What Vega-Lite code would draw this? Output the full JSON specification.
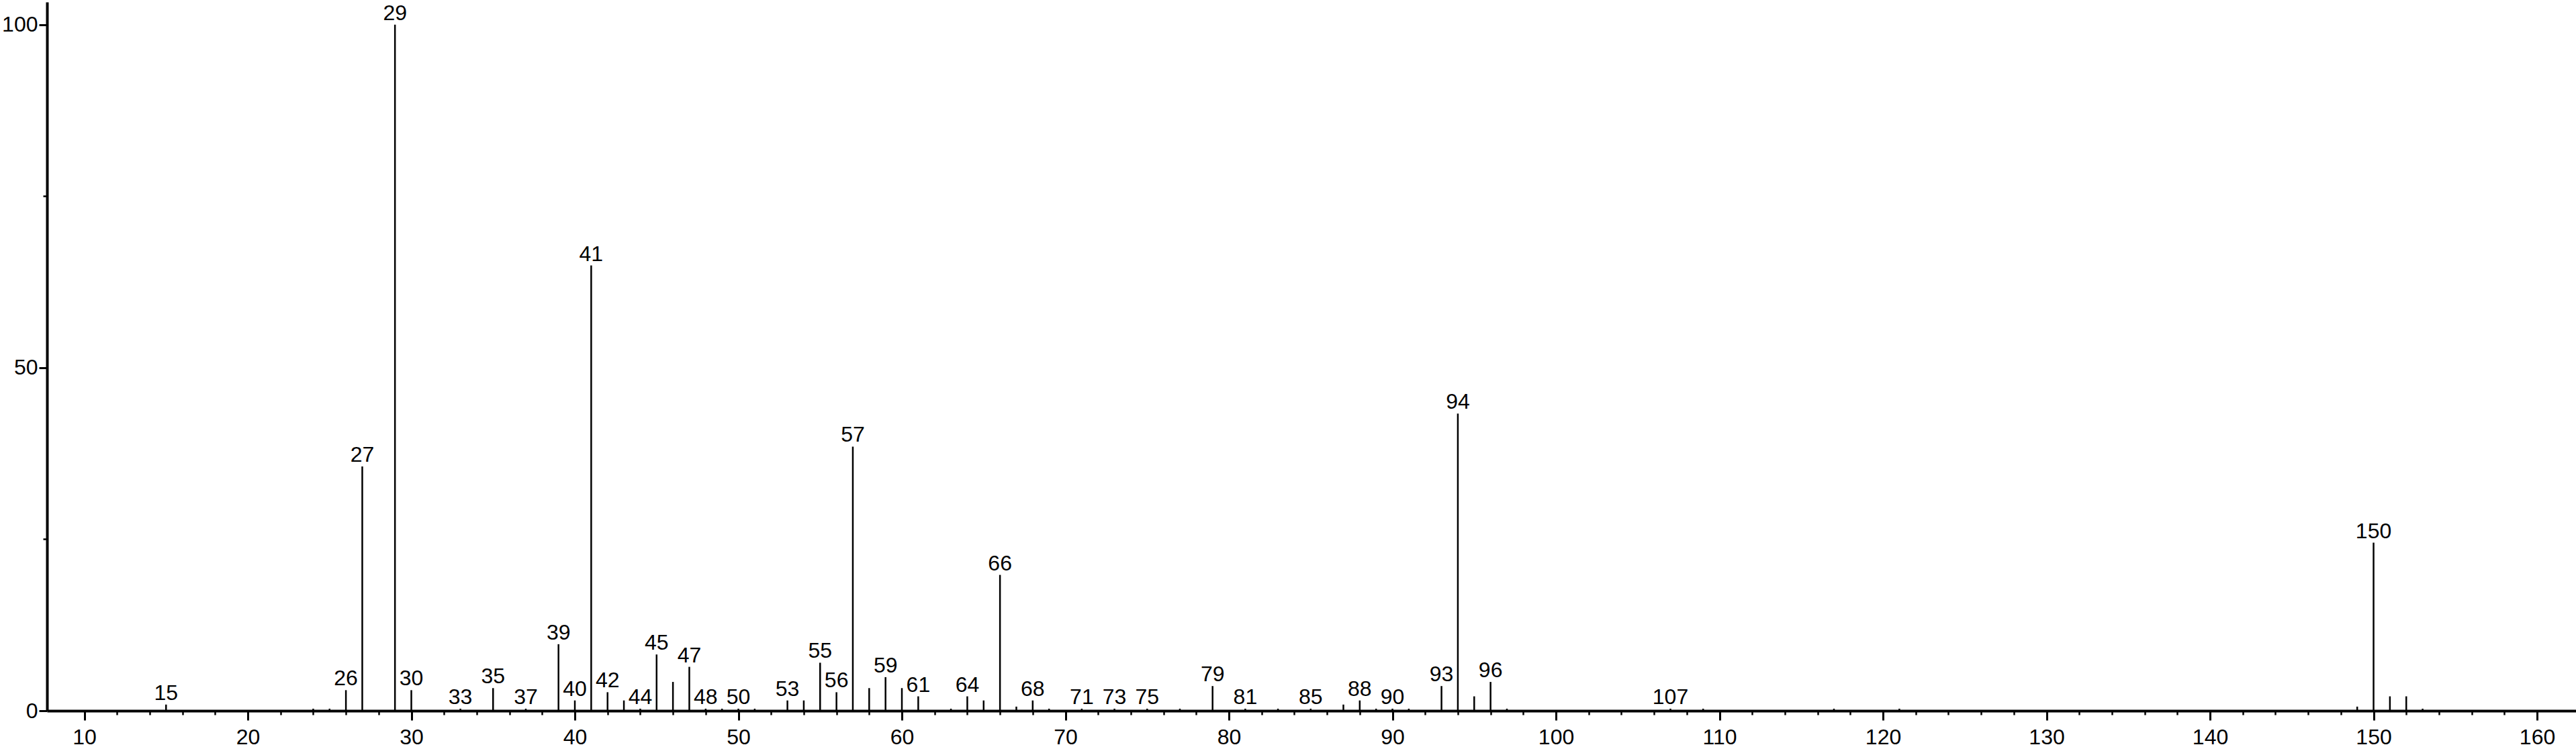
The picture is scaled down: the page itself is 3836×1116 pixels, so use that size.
{
  "$schema": "https://vega.github.io/schema/vega-lite/v6.json",
  "autosize": "none",
  "width": 3766,
  "height": 1056,
  "padding": {"left": 70, "top": 3, "right": 0, "bottom": 57},
  "background": "white",
  "config": {"view": {"stroke": null}, "font": "Liberation Sans"},
  "data": {"values": [
    {"mz": 15, "rel": 0.9, "lab": true},
    {"mz": 24, "rel": 0.3, "lab": false},
    {"mz": 25, "rel": 0.3, "lab": false},
    {"mz": 26, "rel": 3.0, "lab": true},
    {"mz": 27, "rel": 35.6, "lab": true},
    {"mz": 29, "rel": 100, "lab": true},
    {"mz": 30, "rel": 3.0, "lab": true},
    {"mz": 33, "rel": 0.3, "lab": true},
    {"mz": 35, "rel": 3.3, "lab": true},
    {"mz": 37, "rel": 0.3, "lab": true},
    {"mz": 39, "rel": 9.7, "lab": true},
    {"mz": 40, "rel": 1.5, "lab": true},
    {"mz": 41, "rel": 64.9, "lab": true},
    {"mz": 42, "rel": 2.7, "lab": true},
    {"mz": 43, "rel": 1.5, "lab": false},
    {"mz": 44, "rel": 0.3, "lab": true},
    {"mz": 45, "rel": 8.2, "lab": true},
    {"mz": 46, "rel": 4.2, "lab": false},
    {"mz": 47, "rel": 6.4, "lab": true},
    {"mz": 48, "rel": 0.3, "lab": true},
    {"mz": 49, "rel": 0.3, "lab": false},
    {"mz": 50, "rel": 0.3, "lab": true},
    {"mz": 51, "rel": 0.3, "lab": false},
    {"mz": 53, "rel": 1.5, "lab": true},
    {"mz": 54, "rel": 1.5, "lab": false},
    {"mz": 55, "rel": 7.0, "lab": true},
    {"mz": 56, "rel": 2.7, "lab": true},
    {"mz": 57, "rel": 38.5, "lab": true},
    {"mz": 58, "rel": 3.3, "lab": false},
    {"mz": 59, "rel": 4.9, "lab": true},
    {"mz": 60, "rel": 3.3, "lab": false},
    {"mz": 61, "rel": 2.1, "lab": true},
    {"mz": 63, "rel": 0.3, "lab": false},
    {"mz": 64, "rel": 2.1, "lab": true},
    {"mz": 65, "rel": 1.5, "lab": false},
    {"mz": 66, "rel": 19.8, "lab": true},
    {"mz": 67, "rel": 0.6, "lab": false},
    {"mz": 68, "rel": 1.5, "lab": true},
    {"mz": 69, "rel": 0.3, "lab": false},
    {"mz": 71, "rel": 0.3, "lab": true},
    {"mz": 73, "rel": 0.3, "lab": true},
    {"mz": 75, "rel": 0.3, "lab": true},
    {"mz": 77, "rel": 0.3, "lab": false},
    {"mz": 79, "rel": 3.6, "lab": true},
    {"mz": 81, "rel": 0.3, "lab": true},
    {"mz": 83, "rel": 0.3, "lab": false},
    {"mz": 85, "rel": 0.3, "lab": true},
    {"mz": 87, "rel": 0.9, "lab": false},
    {"mz": 88, "rel": 1.5, "lab": true},
    {"mz": 89, "rel": 0.3, "lab": false},
    {"mz": 90, "rel": 0.3, "lab": true},
    {"mz": 91, "rel": 0.3, "lab": false},
    {"mz": 93, "rel": 3.6, "lab": true},
    {"mz": 94, "rel": 43.3, "lab": true},
    {"mz": 95, "rel": 2.1, "lab": false},
    {"mz": 96, "rel": 4.2, "lab": true},
    {"mz": 97, "rel": 0.3, "lab": false},
    {"mz": 107, "rel": 0.3, "lab": true},
    {"mz": 109, "rel": 0.3, "lab": false},
    {"mz": 117, "rel": 0.3, "lab": false},
    {"mz": 121, "rel": 0.3, "lab": false},
    {"mz": 149, "rel": 0.6, "lab": false},
    {"mz": 150, "rel": 24.5, "lab": true},
    {"mz": 151, "rel": 2.1, "lab": false},
    {"mz": 152, "rel": 2.1, "lab": false},
    {"mz": 153, "rel": 0.3, "lab": false}
  ]},
  "layer": [
    {
      "mark": {"type": "rule", "color": "black", "strokeWidth": 2.5},
      "encoding": {
        "x": {"field": "mz", "type": "quantitative",
              "scale": {"domain": [7.72, 162.38], "nice": false, "zero": false},
              "axis": {"orient": "bottom", "values": [10,20,30,40,50,60,70,80,90,100,110,120,130,140,150,160],
                       "title": null, "grid": false, "domainColor": "black", "domainWidth": 4,
                       "tickColor": "black", "tickWidth": 3, "tickSize": 14,
                       "labelFontSize": 32, "labelColor": "black", "labelPadding": 10,
                       "labelFont": "Liberation Sans", "labelFlush": false, "labelOverlap": false}},
        "y": {"field": "rel", "type": "quantitative",
              "scale": {"domain": [0, 103.3], "nice": false},
              "axis": {"orient": "left", "values": [0, 50, 100], "title": null, "grid": false,
                       "domainColor": "black", "domainWidth": 4,
                       "tickColor": "black", "tickWidth": 3, "tickSize": 12,
                       "labelFontSize": 32, "labelColor": "black", "labelPadding": 2,
                       "labelFont": "Liberation Sans", "labelFlush": false, "labelOverlap": false}},
        "y2": {"datum": 0}
      }
    },
    {
      "transform": [{"filter": {"field": "lab", "equal": true}}],
      "mark": {"type": "text", "color": "black", "fontSize": 32, "font": "Liberation Sans",
               "align": "center", "baseline": "alphabetic", "dy": -7},
      "encoding": {
        "x": {"field": "mz", "type": "quantitative",
              "axis": {"orient": "bottom", "values": [12,14,16,18,22,24,26,28,32,34,36,38,42,44,46,48,52,54,56,58,62,64,66,68,72,74,76,78,82,84,86,88,92,94,96,98,102,104,106,108,112,114,116,118,122,124,126,128,132,134,136,138,142,144,146,148,152,154,156,158],
                       "title": null, "grid": false, "domain": false, "labels": false,
                       "tickColor": "black", "tickWidth": 2.5, "tickSize": 6}},
        "y": {"field": "rel", "type": "quantitative",
              "axis": {"orient": "left", "values": [25, 75], "title": null, "grid": false,
                       "domain": false, "labels": false,
                       "tickColor": "black", "tickWidth": 2.5, "tickSize": 6}},
        "text": {"field": "mz", "type": "nominal"}
      }
    }
  ],
  "resolve": {"axis": {"x": "independent", "y": "independent"}}
}
